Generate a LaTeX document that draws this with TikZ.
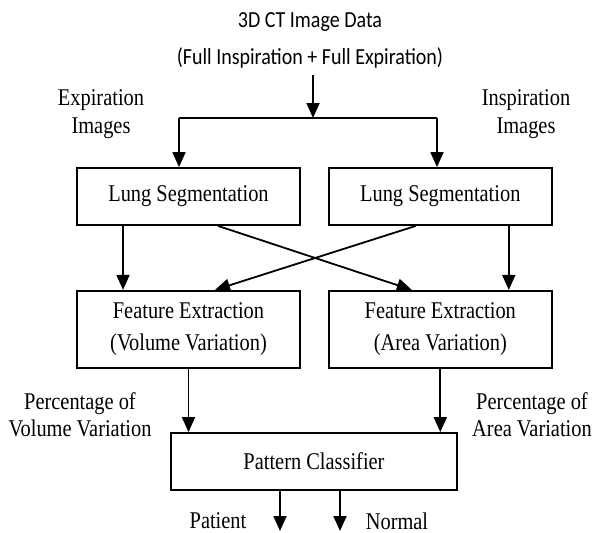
\documentclass[tikz,border=0pt]{standalone}
\usepackage{fontspec}
\setmainfont{Liberation Serif}[FakeStretch=0.85]
\newfontfamily\titlefont{Carlito}[FakeStretch=0.87]
\usepackage{tikz}
\usetikzlibrary{positioning,arrows.meta}
\tikzset{
  flow box/.style={
    draw,
    line width=0.9pt,
    minimum width={#1},
    align=center,
    inner sep=0pt,
    font=\fontsize{12}{16}\selectfont,
  },
  flow line/.style={
    line width=0.9pt,
  },
  flow arrow/.style={
    flow line,
    -{Triangle[length=7.5pt,width=6.5pt]},
  },
  title text/.style={
    font=\titlefont\fontsize{11.5}{14}\selectfont,
  },
  side label/.style={
    align=center,
    font=\fontsize{12}{14}\selectfont,
  }
}

\begin{document}
\begin{tikzpicture}[x=0.5pt, y=-0.5pt, node distance=13.5pt]
    \useasboundingbox (0,0) rectangle (595,532);

    \node [title text] (title) at (310,22) {3D CT Image Data};
    \node [title text] (source) at (310,58) {(Full Inspiration + Full Expiration)};

    \node [flow box=111.5pt, minimum height=28.5pt] (lungL) at (188.5,196.5) {Lung Segmentation};
    \node [flow box=111.5pt, minimum height=28.5pt, right=of lungL] (lungR) {Lung Segmentation};
    \node [flow box=111.5pt, minimum height=38.5pt, below=32pt of lungL] (featL) {Feature Extraction\\(Volume Variation)};
    \node [flow box=111.5pt, minimum height=38.5pt, below=32pt of lungR] (featR) {Feature Extraction\\(Area Variation)};
    \node [flow box=143pt, minimum height=28.5pt] (clf) at (314,461.5) {Pattern Classifier};

    \node [side label] (expLbl) at (101,114) {Expiration\\Images};
    \node [side label] (insLbl) at (526,114) {Inspiration\\Images};
    \node [side label, font=\fontsize{12}{13.5}\selectfont] (volLbl) at (80,414.5) {Percentage of\\Volume Variation};
    \node [side label, font=\fontsize{12}{13.5}\selectfont] (areaLbl) at (532,414.5) {Percentage of\\Area Variation};
    \node [side label] (patient) at (218,521) {Patient};
    \node [side label] (normal) at (397,521) {Normal};

    \coordinate (split) at (313,118);
    \coordinate (splitL) at (179,118);
    \coordinate (splitR) at (437,118);
    \coordinate (outP) at (280,531);
    \coordinate (outN) at (340,531);

    \draw [flow arrow] (source.south -| split) -- (split);
    \draw [flow line] (splitL) -- (splitR);
    \draw [flow arrow] (splitL) -- (splitL |- lungL.north);
    \draw [flow arrow] (splitR) -- (splitR |- lungR.north);
    \draw [flow arrow] ([xshift=-32.75pt]lungL.south) -- ([xshift=-32.75pt]featL.north);
    \draw [flow arrow] ([xshift=34.25pt]lungR.south) -- ([xshift=34.25pt]featR.north);
    \draw [flow arrow] ([xshift=14.75pt]lungL.south) -- ([xshift=-14.25pt]featR.north);
    \draw [flow arrow] ([xshift=-12.25pt]lungR.south) -- ([xshift=13.25pt]featL.north);
    \draw [flow arrow] (featL.south) -- (featL.south |- clf.north);
    \draw [flow arrow] (featR.south) -- (featR.south |- clf.north);
    \draw [flow arrow] (clf.south -| outP) -- (outP);
    \draw [flow arrow] (clf.south -| outN) -- (outN);
\end{tikzpicture}
\end{document}
